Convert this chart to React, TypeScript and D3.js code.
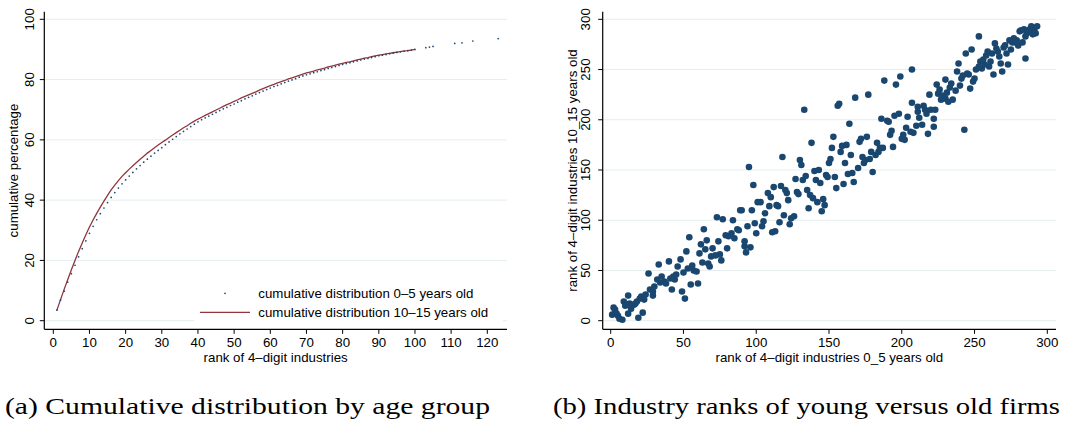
import React from "react";
import * as d3 from "d3";

// ---------- Data: panel (a) ----------
// cumulative percentage, firms 10-15 years old, ranks 1..100
const cumOld: number[] = [
  3.5, 7.0, 10.4, 13.7, 16.9, 20.0, 23.0, 25.8, 28.5, 31.1,
  33.4, 35.6, 37.7, 39.7, 41.6, 43.4, 45.0, 46.5, 47.9, 49.1,
  50.3, 51.4, 52.5, 53.6, 54.6, 55.6, 56.5, 57.4, 58.3, 59.1,
  59.9, 60.8, 61.6, 62.4, 63.2, 64.0, 64.7, 65.5, 66.2, 66.9,
  67.5, 68.1, 68.7, 69.3, 69.9, 70.5, 71.1, 71.7, 72.2, 72.8,
  73.3, 73.9, 74.4, 74.9, 75.4, 75.9, 76.5, 77.0, 77.5, 78.0,
  78.4, 78.9, 79.3, 79.7, 80.2, 80.6, 81.0, 81.4, 81.8, 82.2,
  82.5, 82.8, 83.2, 83.5, 83.8, 84.2, 84.5, 84.8, 85.1, 85.4,
  85.7, 85.9, 86.2, 86.5, 86.8, 87.1, 87.3, 87.6, 87.9, 88.1,
  88.3, 88.5, 88.7, 88.9, 89.1, 89.3, 89.5, 89.6, 89.8, 90.0,
];
// cumulative percentage, firms 0-5 years old, ranks 1..100
const cumYoung: number[] = [
  3.5, 6.8, 9.8, 12.8, 15.6, 18.4, 21.2, 23.9, 26.5, 29.0,
  31.3, 33.5, 35.5, 37.4, 39.2, 40.9, 42.5, 44.0, 45.4, 46.7,
  48.0, 49.2, 50.4, 51.5, 52.6, 53.6, 54.6, 55.6, 56.5, 57.4,
  58.4, 59.3, 60.2, 61.1, 62.0, 62.8, 63.6, 64.4, 65.2, 66.0,
  66.7, 67.3, 67.9, 68.5, 69.1, 69.7, 70.3, 70.8, 71.4, 71.9,
  72.5, 73.0, 73.6, 74.1, 74.6, 75.2, 75.7, 76.2, 76.7, 77.2,
  77.7, 78.1, 78.6, 79.0, 79.5, 79.9, 80.3, 80.8, 81.2, 81.6,
  81.9, 82.3, 82.6, 83.0, 83.3, 83.7, 84.0, 84.3, 84.7, 85.0,
  85.3, 85.6, 85.9, 86.2, 86.5, 86.8, 87.0, 87.3, 87.6, 87.9,
  88.1, 88.3, 88.6, 88.8, 89.0, 89.2, 89.4, 89.6, 89.8, 90.0,
];
const youngTailRanks: number[] = [103, 104, 105, 111, 113, 116, 123];
const youngTailCum: number[] = [90.6, 90.8, 91.0, 92.0, 92.2, 92.8, 93.6];

const ticksA_x: number[] = [0, 10, 20, 30, 40, 50, 60, 70, 80, 90, 100, 110, 120];
const ticksA_y: number[] = [0, 20, 40, 60, 80, 100];

const legendLabels: string[] = [
  "cumulative distribution 0\u20135 years old",
  "cumulative distribution 10\u201315 years old",
];

// ---------- Data: panel (b) ----------
// [rank 0_5 years old, rank 10_15 years old]
const rankPairs: [number, number][] = [
  [1,6],[2,13],[3,11],[4,7],[5,5],[6,2],[8,1],[9,19],[10,15],[12,25],[12,7],[13,17],[14,12],[16,16],[17,17],[18,19],[19,3],[20,22],[21,24],[22,8],
  [23,21],[24,26],[26,47],[27,31],[29,25],[29,29],[30,34],[32,41],[33,56],[34,38],[35,44],[37,39],[38,37],[40,59],[41,42],[42,31],[43,44],[44,41],[45,46],[46,54],
  [48,61],[49,29],[50,48],[51,22],[52,69],[53,52],[54,83],[55,36],[56,55],[57,50],[59,49],[60,37],[61,67],[62,76],[63,58],[64,91],[65,71],[66,80],[67,57],[68,54],
  [69,64],[70,72],[72,65],[73,103],[74,79],[75,66],[76,60],[77,101],[79,85],[80,72],[81,84],[83,87],[84,100],[85,82],[87,91],[88,90],[89,110],[90,110],[92,79],[92,74],
  [93,68],[94,94],[95,153],[96,73],[97,110],[98,135],[99,97],[100,87],[101,118],[103,118],[104,94],[105,99],[106,107],[108,127],[109,114],[110,123],[111,88],[112,133],[113,89],[114,115],
  [115,114],[116,98],[117,134],[118,163],[119,105],[120,130],[121,127],[122,120],[123,96],[124,102],[126,104],[127,141],[128,128],[129,126],[130,160],[131,155],[132,140],[133,210],[134,144],[135,130],
  [136,112],[137,125],[138,177],[139,122],[140,149],[141,140],[142,118],[143,150],[144,137],[145,109],[146,121],[147,115],[148,145],[149,143],[150,157],[151,161],[152,172],[153,183],[154,143],[155,132],
  [156,214],[157,216],[158,168],[159,174],[160,136],[161,157],[162,175],[163,146],[164,196],[165,165],[166,147],[167,138],[168,222],[170,152],[171,178],[172,181],[173,163],[174,157],[175,160],[176,183],
  [177,225],[178,161],[179,168],[180,148],[182,165],[183,177],[184,168],[185,172],[186,201],[187,172],[188,239],[190,199],[191,198],[192,185],[193,189],[194,173],[195,204],[196,235],[198,206],[199,243],
  [200,181],[201,185],[202,180],[203,192],[204,203],[206,188],[207,250],[207,217],[208,187],[210,194],[211,208],[211,213],[212,202],[214,195],[215,214],[216,210],[217,206],[218,186],[219,225],[220,210],
  [222,201],[222,193],[223,210],[224,235],[225,226],[226,230],[227,220],[228,224],[230,221],[230,240],[231,227],[232,218],[233,232],[234,236],[235,220],[237,229],[238,248],[239,256],[240,234],[241,241],
  [242,244],[243,190],[244,266],[245,246],[246,245],[247,231],[248,270],[249,238],[250,241],[251,250],[253,253],[253,283],[254,258],[255,251],[256,260],[257,255],[258,264],[259,268],[260,253],[261,258],
  [262,266],[263,245],[264,276],[265,271],[266,268],[267,263],[268,256],[269,248],[270,272],[271,274],[272,266],[273,255],[274,279],[275,270],[276,277],[277,281],[278,277],[279,279],[280,274],[281,288],
  [282,289],[283,277],[284,290],[285,261],[285,283],[286,286],[287,288],[288,290],[289,293],[290,285],[291,289],[292,286],[293,293],
];
const ticksB: number[] = [0, 50, 100, 150, 200, 250, 300];

const captions: string[] = [
  "(a) Cumulative distribution by age group",
  "(b) Industry ranks of young versus old firms",
];

const NAVY = "#1a476f";
const MAROON = "#90353b";
const GRID = "#e4edef";
const SANS = "Liberation Sans, Arial, Helvetica, sans-serif";
const SERIF = "Liberation Serif, Times New Roman, serif";
const FS = 13.3;

export default function App() {
  // panel (a) scales
  const xA = d3.scaleLinear().domain([0, 120]).range([53.3, 487.3]);
  const yA = d3.scaleLinear().domain([0, 100]).range([320.7, 19.3]);
  const plotA = { left: 44.3, right: 507, top: 11.7, bottom: 329.3 };

  // panel (b) scales
  const xB = d3.scaleLinear().domain([0, 300]).range([610.7, 1047.3]);
  const yB = d3.scaleLinear().domain([0, 300]).range([320.7, 19.3]);
  const plotB = { left: 602.7, right: 1056, top: 11.7, bottom: 329.3 };

  const oldPts = cumOld.map((v, i) => [i + 1, v] as [number, number]);
  const youngPts = cumYoung
    .map((v, i) => [i + 1, v] as [number, number])
    .concat(youngTailRanks.map((r, i) => [r, youngTailCum[i]] as [number, number]));

  const lineGen = d3
    .line<[number, number]>()
    .x((d) => xA(d[0]))
    .y((d) => yA(d[1]))
    .curve(d3.curveLinear);

  const tickLen = 4.5;

  return (
    <svg
      width={1073}
      height={424}
      style={{ position: "absolute", left: 0, top: 0, background: "#fff" }}
      fontFamily={SANS}
    >
      <rect x={0} y={0} width={1073} height={424} fill="#fff" />

      {/* ===== Panel (a) ===== */}
      {ticksA_y.map((t) => (
        <line key={"ga" + t} x1={plotA.left} x2={plotA.right} y1={yA(t)} y2={yA(t)} stroke={GRID} strokeWidth={1} />
      ))}
      {/* legend background */}
      <rect x={194} y={281} width={309} height={45} fill="#fff" />

      <path d={lineGen(oldPts) || ""} fill="none" stroke={MAROON} strokeWidth={1.3} />
      {youngPts.map((d, i) => (
        <circle key={"y" + i} cx={xA(d[0])} cy={yA(d[1])} r={0.85} fill={NAVY} />
      ))}

      {/* axes */}
      <line x1={plotA.left} x2={plotA.left} y1={plotA.top} y2={plotA.bottom} stroke="#000" strokeWidth={1.2} />
      <line x1={plotA.left} x2={plotA.right} y1={plotA.bottom} y2={plotA.bottom} stroke="#000" strokeWidth={1.2} />
      {ticksA_y.map((t) => (
        <g key={"ya" + t}>
          <line x1={plotA.left - tickLen} x2={plotA.left} y1={yA(t)} y2={yA(t)} stroke="#000" strokeWidth={1} />
          <text
            transform={`translate(29.3,${yA(t)}) rotate(-90)`}
            textAnchor="middle"
            dy="0.35em"
            fontSize={FS}
            fill="#000"
          >
            {t}
          </text>
        </g>
      ))}
      {ticksA_x.map((t) => (
        <g key={"xa" + t}>
          <line x1={xA(t)} x2={xA(t)} y1={plotA.bottom} y2={plotA.bottom + tickLen} stroke="#000" strokeWidth={1} />
          <text x={xA(t)} y={346.5} textAnchor="middle" fontSize={FS} fill="#000">
            {t}
          </text>
        </g>
      ))}
      <text x={(plotA.left + plotA.right) / 2} y={361.5} textAnchor="middle" fontSize={FS} fill="#000">
        rank of 4{"\u2013"}digit industries
      </text>
      <text
        transform={`translate(13.5,${(plotA.top + plotA.bottom) / 2}) rotate(-90)`}
        textAnchor="middle"
        dy="0.35em"
        fontSize={FS}
        fill="#000"
      >
        cumulative percentage
      </text>

      {/* legend */}
      <circle cx={225} cy={293.3} r={0.85} fill={NAVY} />
      <line x1={200} x2={250} y1={312.3} y2={312.3} stroke={MAROON} strokeWidth={1.3} />
      <text x={258.3} y={297.8} fontSize={FS} fill="#000">
        {legendLabels[0]}
      </text>
      <text x={258.3} y={316.8} fontSize={FS} fill="#000">
        {legendLabels[1]}
      </text>

      {/* ===== Panel (b) ===== */}
      {ticksB.map((t) => (
        <line key={"gb" + t} x1={plotB.left} x2={plotB.right} y1={yB(t)} y2={yB(t)} stroke={GRID} strokeWidth={1} />
      ))}
      {rankPairs.map((d, i) => (
        <circle key={"s" + i} cx={xB(d[0])} cy={yB(d[1])} r={3.3} fill={NAVY} />
      ))}
      <line x1={plotB.left} x2={plotB.left} y1={plotB.top} y2={plotB.bottom} stroke="#000" strokeWidth={1.2} />
      <line x1={plotB.left} x2={plotB.right} y1={plotB.bottom} y2={plotB.bottom} stroke="#000" strokeWidth={1.2} />
      {ticksB.map((t) => (
        <g key={"yb" + t}>
          <line x1={plotB.left - tickLen} x2={plotB.left} y1={yB(t)} y2={yB(t)} stroke="#000" strokeWidth={1} />
          <text
            transform={`translate(585,${yB(t)}) rotate(-90)`}
            textAnchor="middle"
            dy="0.35em"
            fontSize={FS}
            fill="#000"
          >
            {t}
          </text>
        </g>
      ))}
      {ticksB.map((t) => (
        <g key={"xb" + t}>
          <line x1={xB(t)} x2={xB(t)} y1={plotB.bottom} y2={plotB.bottom + tickLen} stroke="#000" strokeWidth={1} />
          <text x={xB(t)} y={346.5} textAnchor="middle" fontSize={FS} fill="#000">
            {t}
          </text>
        </g>
      ))}
      <text x={(plotB.left + plotB.right) / 2} y={361.5} textAnchor="middle" fontSize={FS} fill="#000">
        rank of 4{"\u2013"}digit industries 0_5 years old
      </text>
      <text
        transform={`translate(572,${(plotB.top + plotB.bottom) / 2}) rotate(-90)`}
        textAnchor="middle"
        dy="0.35em"
        fontSize={FS}
        fill="#000"
      >
        rank of 4{"\u2013"}digit industries 10_15 years old
      </text>

      {/* captions */}
      <text x={5} y={414} fontFamily={SERIF} fontSize={23} fill="#000" textLength={485} lengthAdjust="spacingAndGlyphs">
        {captions[0]}
      </text>
      <text x={553} y={414} fontFamily={SERIF} fontSize={23} fill="#000" textLength={507} lengthAdjust="spacingAndGlyphs">
        {captions[1]}
      </text>
    </svg>
  );
}
